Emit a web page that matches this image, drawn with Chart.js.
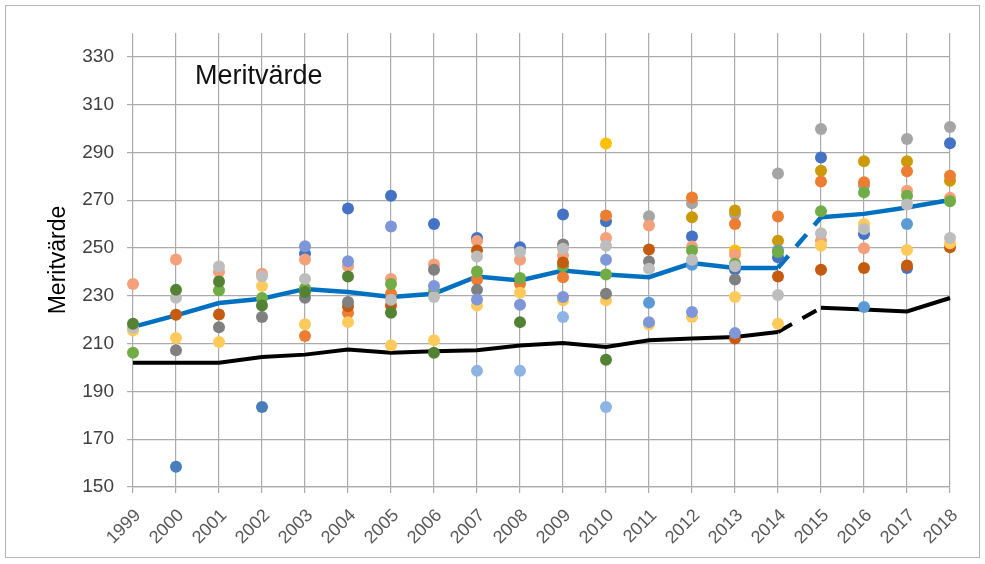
<!DOCTYPE html>
<html>
<head>
<meta charset="utf-8">
<script src="https://cdn.jsdelivr.net/npm/chart.js@4.4.1/dist/chart.umd.min.js"></script>
<style>
  html, body { margin: 0; padding: 0; background: #fff; }
</style>
</head>
<body>
<canvas id="myChart" width="985" height="564"></canvas>
<script>
const years = ['1999','2000','2001','2002','2003','2004','2005','2006','2007','2008',
               '2009','2010','2011','2012','2013','2014','2015','2016','2017','2018'];
const yTicks = [150, 170, 190, 210, 230, 250, 270, 290, 310, 330];

// linjer
const medel = [217.0,221.8,227.0,228.8,232.9,231.6,229.5,230.9,238.1,236.4,240.6,238.9,237.8,243.7,241.7,241.7,262.9,264.3,267.0,270.1];
const lagsta = [202.0,202.0,202.0,204.4,205.4,207.5,206.2,206.8,207.2,209.2,210.3,208.6,211.4,212.1,212.8,214.9,225.0,224.3,223.5,229.1];

// punkter, en serie per färg
const blaa = [null,null,null,null,247.6,266.6,271.9,260.1,254.2,250.3,264.0,261.2,null,254.8,241.0,246.2,287.9,255.9,241.6,293.9];
const lavendel = [null,null,null,null,250.8,244.5,259.0,234.1,228.5,226.3,229.5,245.1,219.0,223.2,214.4,null,null,null,null,null];
const laxrosa = [235.0,245.2,240.0,239.2,245.2,242.4,237.1,243.1,252.9,245.1,246.9,254.2,259.4,250.6,247.3,null,253.1,249.9,274.0,271.0];
const orange = [null,null,null,null,213.2,222.8,230.9,null,236.7,235.0,237.8,263.6,null,271.2,260.1,263.2,277.9,277.5,282.1,280.3];
const brun = [null,222.1,222.2,null,null,225.6,226.0,null,249.0,null,244.0,null,249.4,null,212.1,238.1,240.9,241.7,242.7,250.3];
const guld = [null,null,null,null,null,null,null,null,null,null,null,293.8,null,null,249.0,null,null,null,null,null];
const morkguld = [null,null,null,null,null,null,null,null,null,null,null,null,null,262.9,265.7,253.1,282.4,286.3,286.3,278.2];
const ljusguld = [215.5,212.4,210.7,234.1,218.1,219.0,209.3,211.4,226.0,231.3,228.1,228.1,218.0,221.1,229.5,218.3,251.0,260.1,249.2,252.0];
const gra = [null,null,null,null,null,null,null,null,null,null,null,null,263.3,268.7,264.3,281.2,299.8,276.1,295.6,300.7];
const ljusgra = [216.6,229.2,242.3,238.2,237.1,null,228.4,229.5,246.5,248.3,249.7,251.0,241.3,245.1,242.4,230.4,256.2,258.0,268.2,254.2];
const morkgra = [null,207.2,216.9,221.1,229.2,227.4,null,240.9,232.5,null,251.5,230.9,244.4,null,236.8,null,null,null,null,null];
const gron = [206.2,null,232.3,229.1,233.2,null,235.0,232.0,240.2,237.5,242.4,238.9,null,249.0,243.4,248.3,265.4,273.3,271.9,269.6];
const morkgron = [218.3,232.5,236.0,226.0,231.6,238.1,222.9,206.2,null,219.0,null,203.3,null,null,null,null,null,null,null,null];
const stalbla = [null,158.5,null,183.5,null,null,null,null,null,null,null,null,null,null,null,null,null,null,null,null];
const mellanbla = [null,null,null,null,null,null,null,null,null,null,null,null,227.1,243.0,null,249.0,null,225.3,260.1,null];
const ljusbla = [null,null,null,null,null,null,null,null,198.6,198.6,221.1,183.5,null,null,null,null,null,null,null,null];

function dots(data, color){
  return {
    data: data,
    showLine: false,
    pointRadius: 6,
    pointBorderWidth: 0,
    pointBackgroundColor: color,
    borderColor: color,
    order: 0
  };
}

const dashed = ctx => ctx.p0DataIndex === 15 ? [16, 12] : undefined;

const frame = {
  id: 'frame',
  beforeDraw(chart){
    const c = chart.ctx;
    c.save();
    c.fillStyle = '#fff';
    c.fillRect(0, 0, chart.width, chart.height);
    c.strokeStyle = '#b4b4b4';
    c.lineWidth = 1;
    c.strokeRect(5.5, 5.5, 974, 552);
    c.restore();
  },
  afterDraw(chart){
    const c = chart.ctx;
    c.save();
    c.font = "27px 'Liberation Sans', Arial, sans-serif";
    c.fillStyle = '#111';
    c.textBaseline = 'alphabetic';
    c.fillText('Meritvärde', 195, 84);
    c.restore();
  }
};

Chart.defaults.font.family = "'Liberation Sans', Arial, sans-serif";

const ctx = document.getElementById('myChart');
new Chart(ctx, {
  type: 'line',
  data: {
    labels: years,
    datasets: [
      dots(lavendel, '#7f97d8'),
      dots(ljusbla, '#8eb4e3'),
      dots(stalbla, '#4a7ebb'),
      dots(morkgron, '#548235'),
      dots(ljusgra, '#bdbdbd'),
      dots(morkgra, '#808080'),
      dots(ljusguld, '#ffca5c'),
      dots(brun, '#c55a11'),
      dots(gron, '#70ad47'),
      dots(laxrosa, '#f4a07a'),
      dots(orange, '#ed7d31'),
      dots(mellanbla, '#5b9bd5'),
      dots(blaa, '#4472c4'),
      dots(morkguld, '#cc9a06'),
      dots(gra, '#a5a5a5'),
      dots(guld, '#ffc000'),
      {
        data: medel,
        borderColor: '#0070c0',
        borderWidth: 4.5,
        pointRadius: 0,
        borderCapStyle: 'butt',
        segment: { borderDash: dashed },
        order: 1
      },
      {
        data: lagsta,
        borderColor: '#000',
        borderWidth: 4,
        pointRadius: 0,
        borderCapStyle: 'butt',
        segment: { borderDash: dashed },
        order: 1
      }
    ]
  },
  options: {
    responsive: false,
    animation: false,
    layout: { padding: { left: 0, right: 35, top: 33, bottom: 0 } },
    plugins: {
      legend: { display: false },
      tooltip: { enabled: false }
    },
    scales: {
      x: {
        offset: false,
        grid: { color: '#ababab', lineWidth: 1.2, tickLength: 6 },
        border: { color: '#ababab', width: 1.2 },
        ticks: {
          autoSkip: false,
          minRotation: 45,
          maxRotation: 45,
          padding: 12,
          labelOffset: 5,
          color: '#595959',
          font: { size: 18 }
        },
        afterFit: s => { s.height = 77; }
      },
      y: {
        min: 150,
        max: 340,
        afterBuildTicks: s => { s.ticks = yTicks.map(v => ({ value: v })); },
        grid: { color: '#ababab', lineWidth: 1.2, tickLength: 6 },
        border: { display: false },
        ticks: {
          padding: 13,
          color: '#404040',
          font: { size: 19 }
        },
        title: {
          display: true,
          text: 'Meritvärde',
          color: '#000',
          font: { size: 23 },
          padding: { top: 45, bottom: 0 }
        },
        afterFit: s => { s.width = 133; }
      }
    }
  },
  plugins: [frame]
});
</script>
</body>
</html>
